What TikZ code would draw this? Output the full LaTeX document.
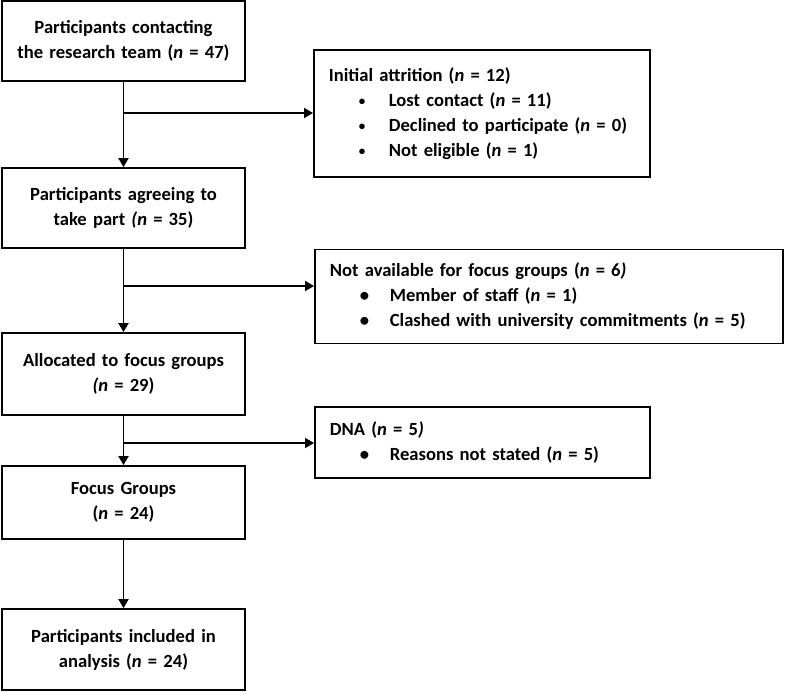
\documentclass[tikz,border=0pt]{standalone}
\usepackage{fontspec}
\setmainfont{Carlito}
\usepackage{tikz}
\usetikzlibrary{arrows.meta}
\usetikzlibrary{positioning}

\newcommand{\nval}[1]{(\textit{n} = #1)}
\newcommand{\flowitem}[1]{\\\hspace*{30pt}\makebox[30pt][l]{\textbullet}#1}
\newcommand{\smallitem}[1]{\\\hspace*{30pt}\makebox[30pt][l]{\raisebox{1pt}{\fontsize{13}{13}\selectfont\textbullet}}#1}

\begin{document}
\begin{tikzpicture}[x=1pt,y=-1pt]
\tikzset{every node/.style={font=\fontsize{18.6}{25}\selectfont\bfseries}}
\tikzset{flowline/.style={line width=1.8pt, -{Triangle[length=9pt,width=10pt]}}}

\tikzset{MainBox/.style={
  draw,
  rectangle,
  line width=1.8pt,
  align=center,
  minimum width=243pt,
  text width=225pt,
  inner xsep=9pt,
  inner ysep=0pt,
}}
\tikzset{SideBox/.style={
  draw,
  rectangle,
  line width=1.8pt,
  anchor=west,
  align=left,
  inner xsep=15pt,
  inner ysep=0pt,
}}

\useasboundingbox (0,0) rectangle (787,692);

% main column
\node[MainBox, minimum height=80pt] (contact) at (123.5,41)
  {Participants contacting\\the research team \nval{47}};
\node[MainBox, minimum height=80pt] (agree) at (123.5,208)
  {Participants agreeing to\\take part \textit{(n} = 35)};
\node[MainBox, minimum height=82pt] (allocated) at (123.5,374)
  {Allocated to focus groups\\\textit{(n} = 29)};
\node[MainBox, minimum height=73pt] (focus) at (123.5,502.5)
  {Focus Groups\\\nval{24}};
\node[MainBox, minimum height=81pt] (analysis) at (123.5,649.5)
  {Participants included in\\analysis \nval{24}};

% exclusions
\node[SideBox, minimum height=127pt, text width=306pt] (attrition) at (313,113.5)
  {Initial attrition \nval{12}
   \smallitem{Lost contact \nval{11}}
   \smallitem{Declined to participate \nval{0}}
   \smallitem{Not eligible \nval{1}}};
\node[SideBox, minimum height=94pt, text width=438pt] (unavailable) at (314,296.5)
  {Not available for focus groups (\textit{n} = 6\textit{)}
   \flowitem{Member of staff \nval{1}}
   \flowitem{Clashed with university commitments \nval{5}}};
\node[SideBox, minimum height=71pt, text width=305pt] (dna) at (314,442.5)
  {DNA (\textit{n} = 5\textit{)}
   \flowitem{Reasons not stated \nval{5}}};

\coordinate (split1) at (123.5,113);
\coordinate (split2) at (123.5,286);
\coordinate (split3) at (123.5,443);

\draw[flowline] (contact) -- (agree);
\draw[flowline] (agree) -- (allocated);
\draw[flowline] (allocated) -- (focus);
\draw[flowline] (focus) -- (analysis);

\draw[flowline] (split1) -- (split1 -| attrition.west);
\draw[flowline] (split2) -- (split2 -| unavailable.west);
\draw[flowline] (split3) -- (split3 -| dna.west);
\end{tikzpicture}
\end{document}
